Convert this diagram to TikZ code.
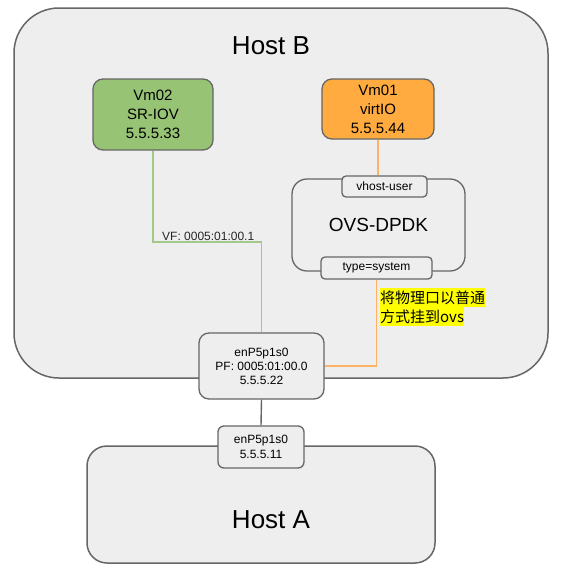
\documentclass[tikz,border=0pt]{standalone}
\usepackage{fontspec}
\setmainfont{Liberation Sans}
\newfontfamily\cjk{Noto Sans CJK SC}
\definecolor{boxgray}{HTML}{EEEEEE}
\definecolor{edgegray}{HTML}{666666}
\definecolor{vmgreen}{HTML}{97C374}
\definecolor{vmorange}{HTML}{FFAB40}
\definecolor{lgreen}{HTML}{A2C98A}
\definecolor{lorange}{HTML}{FFB366}
\definecolor{hl}{HTML}{FFFF00}
\tikzset{
  box/.style={draw=edgegray, line width=1.3pt, fill=boxgray, inner sep=0pt, align=center, text=black},
  hostbox/.style={box, line width=1.5pt},
  greenline/.style={draw=lgreen, line width=1.4pt},
  orangeline/.style={draw=lorange, line width=1.4pt},
  grayline/.style={draw=edgegray, line width=1.4pt},
}
\begin{document}
\begin{tikzpicture}[x=1pt,y=-1pt]
\useasboundingbox (0,0) rectangle (567,576);
\fill[white] (0,0) rectangle (567,576);
% hosts
\node[hostbox, rounded corners=45pt, minimum width=534pt, minimum height=370pt] (hostB) at (281,193) {};
\node[font=\fontsize{26}{30}\selectfont] (hostBt) at (271,46) {Host B};
\node[hostbox, rounded corners=20pt, minimum width=348pt, minimum height=117pt] (hostA) at (261,504.5) {};
\node[font=\fontsize{26}{30}\selectfont] (hostAt) at (271,520) {Host A};
% VMs
\node[box, fill=vmgreen, rounded corners=10pt, minimum width=120pt, minimum height=71pt, font=\fontsize{15}{19}\selectfont] (vm02) at (153,114.5) {Vm02\\SR-IOV\\5.5.5.33};
\node[box, fill=vmorange, rounded corners=10pt, minimum width=112pt, minimum height=60pt, font=\fontsize{15}{19}\selectfont] (vm01) at (378,109) {Vm01\\virtIO\\5.5.5.44};
% OVS
\node[box, rounded corners=15pt, minimum width=173pt, minimum height=92pt, font=\fontsize{19}{22}\selectfont] (ovs) at (378.5,225) {OVS-DPDK};
\node[box, rounded corners=4pt, minimum width=85pt, minimum height=21pt, font=\fontsize{12}{14}\selectfont] (vhost) at (384.5,186.5) {vhost-user};
\node[box, rounded corners=4pt, minimum width=111pt, minimum height=22pt, font=\fontsize{12}{14}\selectfont] (tsys) at (376.5,268) {type=system};
% PF
\node[box, rounded corners=10pt, minimum width=125pt, minimum height=66pt, font=\fontsize{12}{14}\selectfont] (pf) at (261.5,366) {enP5p1s0\\PF: 0005:01:00.0\\5.5.5.22};
\node[box, rounded corners=6pt, minimum width=86pt, minimum height=42pt, font=\fontsize{12}{15}\selectfont] (eth) at (261,447) {enP5p1s0\\5.5.5.11};
% connectors
\coordinate (vfbend) at (261.5,242);
\draw[greenline] (vm02.south) |- (vfbend) -- (pf.north);
\node[anchor=base west, inner sep=0pt, font=\fontsize{12}{14}\selectfont, text=black!85] (vflabel) at (162,240) {VF: 0005:01:00.1};
\draw[orangeline] (vm01.south) -- (vm01.south |- vhost.north);
\draw[orangeline] (tsys.south) |- (pf.east);
\draw[grayline] (pf.south) -- (eth.north);
% yellow note
\node[anchor=north west, fill=hl, inner xsep=0pt, inner ysep=0pt, minimum height=19pt, font=\cjk\fontsize{15}{19}\selectfont] (note1) at (380,288) {将物理口以普通};
\node[anchor=north west, fill=hl, inner xsep=0pt, inner ysep=0pt, minimum height=19pt, font=\cjk\fontsize{15}{19}\selectfont] (note2) at (380,307) {方式挂到ovs};
\end{tikzpicture}
\end{document}
